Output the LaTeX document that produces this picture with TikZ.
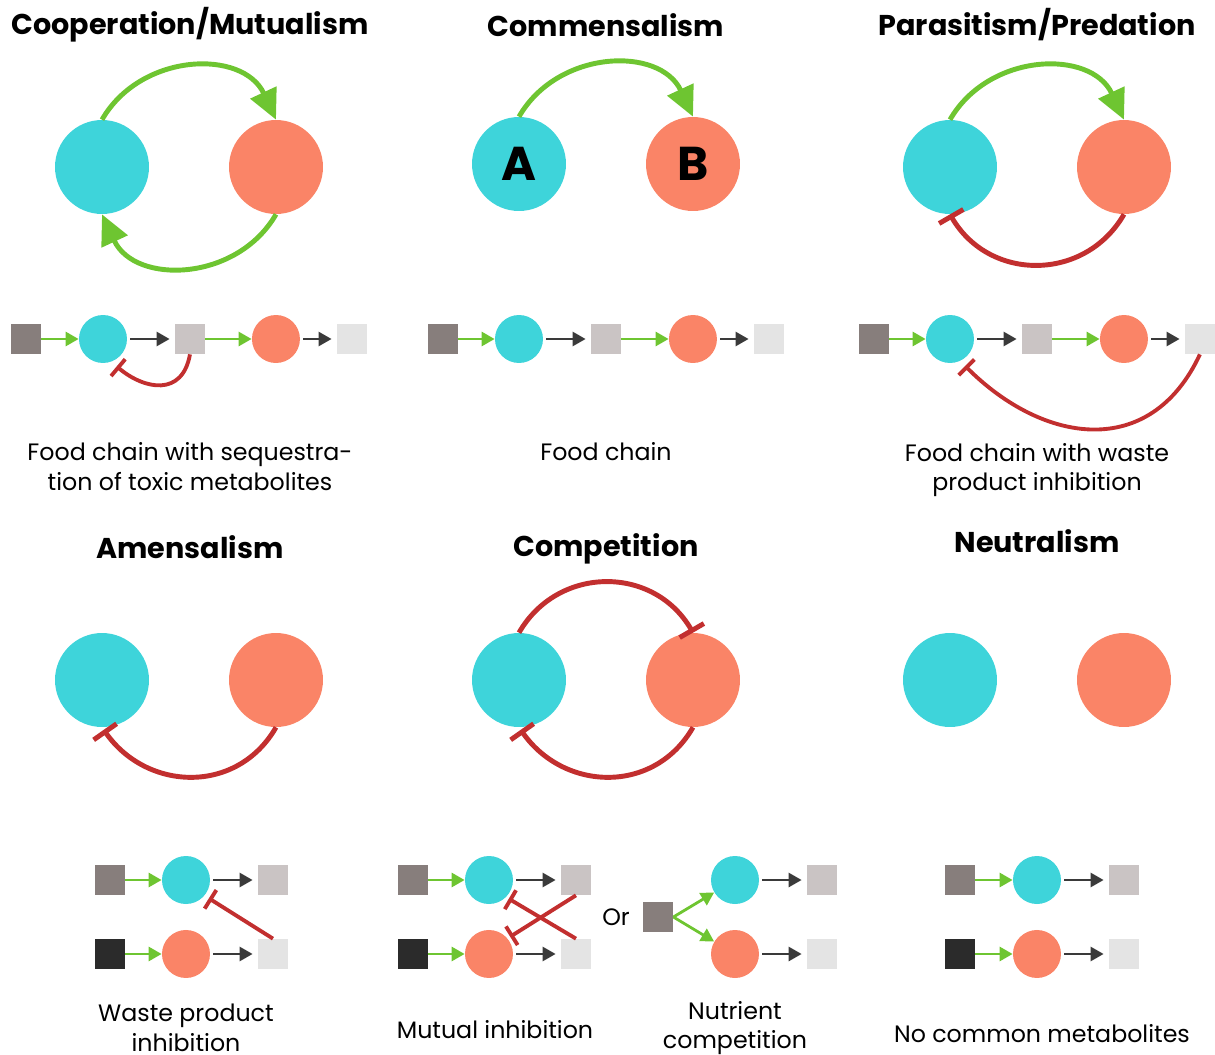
\documentclass[tikz,border=0pt]{standalone}
\usepackage{fontspec}
\setmainfont{Poppins}
\usetikzlibrary{arrows.meta,positioning}

\definecolor{cellA}{HTML}{3ED4DA}
\definecolor{cellB}{HTML}{FA8467}
\definecolor{feedgreen}{HTML}{6EC531}
\definecolor{inhred}{HTML}{C22F2F}
\definecolor{flowgray}{HTML}{3A3A3A}
\definecolor{srcgray}{HTML}{877E7C}
\definecolor{midgray}{HTML}{CAC4C4}
\definecolor{endgray}{HTML}{E4E4E4}
\definecolor{srcblack}{HTML}{2B2B2B}

\tikzset{
  bigA/.style={circle, fill=cellA, minimum size=1.88cm, inner sep=0pt},
  bigB/.style={circle, fill=cellB, minimum size=1.88cm, inner sep=0pt},
  smallA/.style={circle, fill=cellA, minimum size=0.96cm, inner sep=0pt},
  smallB/.style={circle, fill=cellB, minimum size=0.96cm, inner sep=0pt},
  met/.style={rectangle, minimum size=0.6cm, inner sep=0pt},
  title/.style={font=\fontsize{16.3}{19}\selectfont\bfseries},
  caption/.style={align=center, font=\fontsize{13.5}{17}\selectfont},
  feed/.style={-{Triangle[length=0.26cm,width=0.28cm]}, feedgreen, line width=1.6pt},
  flow/.style={-{Triangle[length=0.26cm,width=0.28cm]}, flowgray, line width=1.5pt, shorten <=0.06cm, shorten >=0.1cm},
  inhib/.style={-{Bar[width=0.44cm]}, inhred, line width=2.2pt},
  bigfeed/.style={-{Triangle[length=0.6cm,width=0.56cm]}, feedgreen, line width=2.8pt},
  biginhib/.style={-{Bar[width=0.56cm]}, inhred, line width=2.8pt},
}

\begin{document}
\begin{tikzpicture}[x=0.02cm, y=0.02cm, node distance=1.5cm, on grid]
  \useasboundingbox (0,0) rectangle (1215,-1055);

  % titles
  \node[title] (t1) at (190,-25) {Cooperation/Mutualism};
  \node[title] (t2) at (606,-25) {Commensalism};
  \node[title] (t3) at (1037,-25) {Parasitism/Predation};
  \node[title] (t4) at (190,-547) {Amensalism};
  \node[title] (t5) at (606,-549) {Competition};
  \node[title] (t6) at (1037,-541) {Neutralism};

  % cooperation / mutualism
  \node[bigA] (A1) at (102,-167) {};
  \node[bigB] (B1) at (276,-167) {};
  \draw[bigfeed] (A1.north) to[out=60,in=115,looseness=1.15] (B1.north);
  \draw[bigfeed] (B1.south) to[out=-120,in=-65,looseness=1.15] (A1.south);

  \node[met, fill=srcgray] (s1) at (26,-339) {};
  \node[smallA] (a1) [right=1.54cm of s1] {};
  \node[met, fill=midgray] (m1) [right=1.74cm of a1] {};
  \node[smallB] (b1) [right=1.72cm of m1] {};
  \node[met, fill=endgray] (e1) [right=1.52cm of b1] {};
  \draw[feed] (s1) -- (a1);
  \draw[flow] (a1) -- (m1);
  \draw[feed] (m1) -- (b1);
  \draw[flow] (b1) -- (e1);
  \draw[inhib, shorten >=0.14cm] (m1.south) to[out=-100,in=-40,looseness=1.4] (a1.-70);
  \node[caption] (c1) at (190,-467) {Food chain with sequestra-\\tion of toxic metabolites};

  % commensalism
  \node[bigA, font=\fontsize{27}{30}\selectfont\bfseries] (A2) at (519,-164) {A};
  \node[bigB, font=\fontsize{27}{30}\selectfont\bfseries] (B2) at (693,-164) {B};
  \draw[bigfeed] (A2.north) to[out=60,in=115,looseness=1.15] (B2.north);

  \node[met, fill=srcgray] (s2) at (443,-339) {};
  \node[smallA] (a2) [right=1.52cm of s2] {};
  \node[met, fill=midgray] (m2) [right=1.74cm of a2] {};
  \node[smallB] (b2) [right=1.74cm of m2] {};
  \node[met, fill=endgray] (e2) [right=1.52cm of b2] {};
  \draw[feed] (s2) -- (a2);
  \draw[flow] (a2) -- (m2);
  \draw[feed] (m2) -- (b2);
  \draw[flow] (b2) -- (e2);
  \node[caption] (c2) at (606,-452) {Food chain};

  % parasitism / predation
  \node[bigA] (A3) at (950,-167) {};
  \node[bigB] (B3) at (1124,-167) {};
  \draw[bigfeed] (A3.north) to[out=60,in=115,looseness=1.15] (B3.north);
  \draw[biginhib] (B3.south) to[out=-120,in=-60,looseness=1.15] (A3.south);

  \node[met, fill=srcgray] (s3) at (874,-339) {};
  \node[smallA] (a3) [right=1.52cm of s3] {};
  \node[met, fill=midgray] (m3) [right=1.74cm of a3] {};
  \node[smallB] (b3) [right=1.74cm of m3] {};
  \node[met, fill=endgray] (e3) [right=1.52cm of b3] {};
  \draw[feed] (s3) -- (a3);
  \draw[flow] (a3) -- (m3);
  \draw[feed] (m3) -- (b3);
  \draw[flow] (b3) -- (e3);
  \draw[inhib, shorten >=0.14cm] (e3.south) to[out=-115,in=-45,looseness=1.25] (a3.-65);
  \node[caption] (c3) at (1037,-470) {Food chain with waste\\product inhibition};

  % amensalism
  \node[bigA] (A4) at (102,-680) {};
  \node[bigB] (B4) at (276,-680) {};
  \draw[biginhib, shorten >=0.06cm] (B4.south) to[out=-120,in=-55,looseness=1.15] (A4.south);

  \node[met, fill=srcgray] (s4) at (110,-880) {};
  \node[smallA] (a4) [right=1.52cm of s4] {};
  \node[met, fill=midgray] (m4) [right=1.74cm of a4] {};
  \node[met, fill=srcblack] (k4) [below=1.48cm of s4] {};
  \node[smallB] (b4) [right=1.52cm of k4] {};
  \node[met, fill=endgray] (e4) [right=1.74cm of b4] {};
  \draw[feed] (s4) -- (a4);
  \draw[flow] (a4) -- (m4);
  \draw[feed] (k4) -- (b4);
  \draw[flow] (b4) -- (e4);
  \draw[inhib, shorten >=0.1cm] (e4.north) -- (a4.-40);
  \node[caption] (c4) at (186,-1028) {Waste product\\inhibition};

  % competition
  \node[bigA] (A5) at (519,-680) {};
  \node[bigB] (B5) at (693,-680) {};
  \draw[biginhib] (A5.north) to[out=60,in=120,looseness=1.15] (B5.north);
  \draw[biginhib, shorten >=0.06cm] (B5.south) to[out=-120,in=-55,looseness=1.15] (A5.south);

  \node[met, fill=srcgray] (s5) at (413,-880) {};
  \node[smallA] (a5) [right=1.52cm of s5] {};
  \node[met, fill=midgray] (m5) [right=1.74cm of a5] {};
  \node[met, fill=srcblack] (k5) [below=1.48cm of s5] {};
  \node[smallB] (b5) [right=1.52cm of k5] {};
  \node[met, fill=endgray] (e5) [right=1.74cm of b5] {};
  \draw[feed] (s5) -- (a5);
  \draw[flow] (a5) -- (m5);
  \draw[feed] (k5) -- (b5);
  \draw[flow] (b5) -- (e5);
  \draw[inhib, shorten >=0.06cm] (m5.south) -- (b5.40);
  \draw[inhib, shorten >=0.06cm] (e5.north) -- (a5.-45);
  \node[caption] (c5) at (495,-1030) {Mutual inhibition};

  \node[caption] (or) at (616,-917) {Or};
  \node[met, fill=srcgray] (n6) at (658,-917) {};
  \node[smallA] (a6) at (735,-880) {};
  \node[smallB] (b6) at (735,-954) {};
  \node[met, fill=midgray] (m6) [right=1.74cm of a6] {};
  \node[met, fill=endgray] (e6) [right=1.74cm of b6] {};
  \draw[feed] (n6.east) -- (a6);
  \draw[feed] (n6.east) -- (b6);
  \draw[flow] (a6) -- (m6);
  \draw[flow] (b6) -- (e6);
  \node[caption] (c6) at (735,-1028) {Nutrient\\competition};

  % neutralism
  \node[bigA] (A7) at (950,-680) {};
  \node[bigB] (B7) at (1124,-680) {};

  \node[met, fill=srcgray] (s7) at (960,-880) {};
  \node[smallA] (a7) [right=1.54cm of s7] {};
  \node[met, fill=midgray] (m7) [right=1.74cm of a7] {};
  \node[met, fill=srcblack] (k7) [below=1.48cm of s7] {};
  \node[smallB] (b7) [right=1.54cm of k7] {};
  \node[met, fill=endgray] (e7) [right=1.74cm of b7] {};
  \draw[feed] (s7) -- (a7);
  \draw[flow] (a7) -- (m7);
  \draw[feed] (k7) -- (b7);
  \draw[flow] (b7) -- (e7);
  \node[caption] (c7) at (1042,-1034) {No common metabolites};
\end{tikzpicture}
\end{document}
